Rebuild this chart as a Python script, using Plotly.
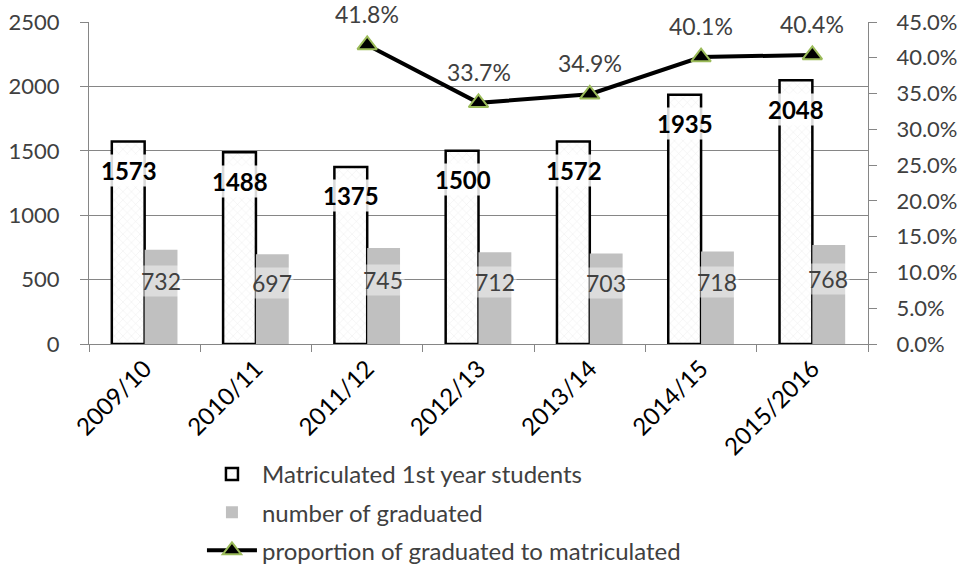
import plotly.graph_objects as go

years = ["2009/10", "2010/11", "2011/12", "2012/13", "2013/14", "2014/15", "2015/2016"]
matriculated = [1573, 1488, 1375, 1500, 1572, 1935, 2048]
graduated = [732, 697, 745, 712, 703, 718, 768]
proportion = [None, None, 0.418, 0.337, 0.349, 0.401, 0.404]

FONT = "Lato"
TXT = "#404040"
AX = "#868686"

fig = go.Figure()
fig.add_trace(go.Bar(
    x=years, y=matriculated, name="Matriculated 1st year students", legendgroup="a",
    marker=dict(color="white", line=dict(color="black", width=2.5),
                pattern=dict(shape="x", fgcolor="#cfcfcf", bgcolor="white", size=6, solidity=0.12)),
))
fig.add_trace(go.Bar(
    x=years, y=graduated, name="number of graduated", legendgroup="b",
    marker=dict(color="#c0c0c0", line=dict(width=0)),
))
fig.add_trace(go.Scatter(
    x=years, y=proportion, name="proportion of graduated to matriculated", legendgroup="c",
    yaxis="y2", mode="lines+markers",
    line=dict(color="black", width=4),
    marker=dict(symbol="triangle-up", size=17, color="black", line=dict(color="#9bbb59", width=2)),
    cliponaxis=False,
))

ann = []
for x, v in zip(years, matriculated):
    ann.append(dict(x=x, y=v, xref="x", yref="y", text="<b>%d</b>" % v, showarrow=False,
                    xshift=-16, yshift=-29, font=dict(family=FONT, size=24, color="black"),
                    bgcolor="rgba(255,255,255,0.85)"))
for x, v in zip(years, graduated):
    ann.append(dict(x=x, y=v / 2, xref="x", yref="y", text="%d" % v, showarrow=False,
                    xshift=16, yshift=16, font=dict(family=FONT, size=23, color=TXT),
                    bgcolor="rgba(255,255,255,0.45)"))
for x, p in zip(years, proportion):
    if p is None:
        continue
    ann.append(dict(x=x, y=p, xref="x", yref="y2", text="%.1f%%" % (p * 100), showarrow=False,
                    yshift=31, font=dict(family=FONT, size=23, color=TXT)))

fig.update_layout(
    width=966, height=564,
    margin=dict(l=89, r=98, t=22, b=220, autoexpand=False),
    paper_bgcolor="white", plot_bgcolor="white",
    barmode="group", bargap=0.41, bargroupgap=0,
    font=dict(family=FONT, size=24, color=TXT),
    showlegend=True,
    legend=dict(x=0.145, y=-0.335, xanchor="left", yanchor="top", orientation="v",
                font=dict(family=FONT, size=24, color=TXT), itemwidth=50,
                tracegroupgap=4, bgcolor="rgba(0,0,0,0)"),
    xaxis=dict(type="category", showline=True, linecolor=AX, linewidth=1,
               ticks="outside", tickson="boundaries", ticklen=7, tickcolor=AX,
               tickangle=-45, tickfont=dict(family=FONT, size=24, color="black"),
               showgrid=False, automargin=False),
    yaxis=dict(range=[0, 2500], dtick=500, showline=True, linecolor=AX,
               ticks="outside", ticklen=8, tickcolor=AX, ticklabelstandoff=16,
               ticklabeloverflow="allow",
               showgrid=True, gridcolor=AX, gridwidth=1, zeroline=False,
               tickfont=dict(family=FONT, size=22, color=TXT), automargin=False),
    yaxis2=dict(range=[0, 0.45], dtick=0.05, tickformat=".1%", overlaying="y", side="right",
                showline=True, linecolor=AX, ticks="outside", ticklen=8, ticklabelstandoff=15,
                ticklabeloverflow="allow",
                tickcolor=AX, showgrid=False, zeroline=False,
                tickfont=dict(family=FONT, size=22, color=TXT), automargin=False),
    annotations=ann,
)

fig.write_html("out.html", config={"displayModeBar": False},
               post_script="document.body.style.margin='0';")
